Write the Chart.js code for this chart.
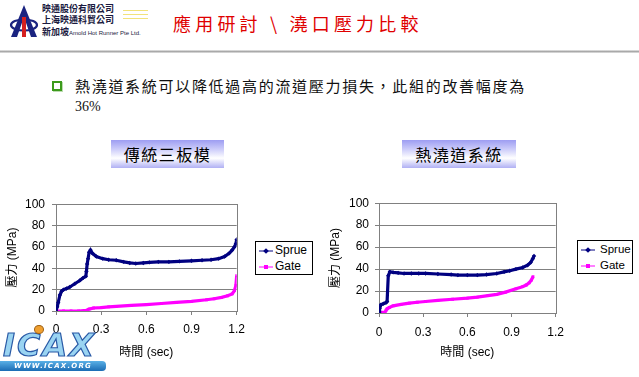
<!DOCTYPE html>
<html><head><meta charset="utf-8">
<script src="https://cdn.jsdelivr.net/npm/chart.js@4/dist/chart.umd.min.js"></script>
<style>
html,body{margin:0;padding:0;}
body{width:639px;height:377px;overflow:hidden;background:#fff;position:relative;font-family:"Liberation Sans",Arial,"Noto Sans CJK TC",sans-serif;}
.abs{position:absolute;}
.co{font-family:"Noto Sans CJK TC",sans-serif;font-weight:700;font-size:9px;line-height:11px;color:#1a1a40;white-space:nowrap;}
.title{left:173px;top:10px;font-family:"Noto Sans CJK TC",sans-serif;font-size:18px;line-height:26px;letter-spacing:4.2px;color:#e00000;white-space:nowrap;}
.sep{left:0;top:50px;width:639px;height:3px;background:linear-gradient(#ececec,#a9a9a9,#e6e6e6);}
.bul{left:52px;top:81px;width:6px;height:6px;border:2px solid #3c9a1c;box-shadow:1px 1px 0 #bcdcb0;}
.txt{left:75px;top:75px;font-family:"Noto Sans CJK TC",sans-serif;font-size:15px;line-height:21px;letter-spacing:1.7px;color:#111;white-space:nowrap;}
.pct{left:75px;top:97px;font-family:"Liberation Serif",serif;font-size:14px;line-height:20px;color:#111;}
.lab{height:28px;top:140px;background:linear-gradient(to bottom,#9d9df2 0%,#cfcffa 35%,#ffffff 65%,#b0b0f4 100%);font-family:"Noto Sans CJK TC",sans-serif;font-size:16px;line-height:28px;letter-spacing:1.5px;text-align:center;color:#000;}
canvas{position:absolute;}
.leg{border:1px solid #000;background:#fff;box-sizing:border-box;}
.leg div{position:absolute;white-space:nowrap;color:#000;}
</style></head><body>

<svg class="abs" style="left:9px;top:4px" width="30" height="34" viewBox="0 0 30 34">
  <path d="M15 1 L2 33 L8 33 L15 13 L22 33 L28 33 Z" fill="#1a2380"/>
  <ellipse cx="15" cy="21" rx="13" ry="5.5" fill="none" stroke="#1a2380" stroke-width="2.2"/>
  <rect x="13" y="13" width="4" height="20" fill="#d42020"/>
</svg>
<div class="abs co" style="left:42px;top:3px">映通股份有限公司</div>
<div class="abs co" style="left:42px;top:14px">上海映通科貿公司</div>
<div class="abs co" style="left:42px;top:26px">新加坡<span style="font-family:'Liberation Sans',sans-serif;font-size:6px;font-weight:400">Amold Hot Runner Pte Ltd.</span></div>
<div class="abs" style="left:123px;top:10px;width:25px;height:1px;background:#f2e27a"></div>
<div class="abs" style="left:123px;top:14px;width:25px;height:1px;background:#f2e27a"></div>
<div class="abs" style="left:123px;top:18px;width:25px;height:1px;background:#f2e27a"></div>

<div class="abs title">應用研討 \ 澆口壓力比較</div>
<div class="abs sep"></div>

<div class="abs bul"></div>
<div class="abs txt">熱澆道系統可以降低過高的流道壓力損失，此組的改善幅度為</div>
<div class="abs pct">36%</div>

<div class="abs lab" style="left:111px;width:113px">傳統三板模</div>
<div class="abs lab" style="left:402px;width:114px">熱澆道系統</div>

<canvas id="c1" width="252" height="187" style="left:0;top:190px"></canvas>
<canvas id="c2" width="252" height="187" style="left:320px;top:190px"></canvas>

<div class="abs leg" style="left:255px;top:241px;width:58px;height:34px;font-size:12px">
  <div style="left:2px;top:2px"><svg width="16" height="14"><line x1="1" y1="7" x2="15" y2="7" stroke="#000080" stroke-width="1"/><rect x="6" y="5" width="4" height="4" transform="rotate(45 8 7)" fill="#000080"/></svg></div>
  <div style="left:19px;top:1px;line-height:15px">Sprue</div>
  <div style="left:2px;top:18px"><svg width="16" height="14"><line x1="1" y1="7" x2="15" y2="7" stroke="#ff00ff" stroke-width="1"/><rect x="6" y="5" width="4" height="4" fill="#ff00ff"/></svg></div>
  <div style="left:19px;top:17px;line-height:15px">Gate</div>
</div>
<div class="abs leg" style="left:577px;top:240px;width:56px;height:34px;font-size:11.5px">
  <div style="left:2px;top:2px"><svg width="16" height="14"><line x1="1" y1="7" x2="15" y2="7" stroke="#000080" stroke-width="1"/><rect x="6" y="5" width="4" height="4" transform="rotate(45 8 7)" fill="#000080"/></svg></div>
  <div style="left:22px;top:1px;line-height:15px">Sprue</div>
  <div style="left:2px;top:18px"><svg width="16" height="14"><line x1="1" y1="7" x2="15" y2="7" stroke="#ff00ff" stroke-width="1"/><rect x="6" y="5" width="4" height="4" fill="#ff00ff"/></svg></div>
  <div style="left:22px;top:17px;line-height:15px">Gate</div>
</div>

<div class="abs" style="left:3px;top:327px;font-family:'DejaVu Sans',sans-serif;font-style:italic;font-weight:700;font-size:32px;line-height:36px;letter-spacing:2px;color:#9ad4f2;-webkit-text-stroke:1.2px #2a5aa6;">ICAX</div>
<div class="abs" style="left:34px;top:325px;width:8px;height:7px;border-radius:50%;background:#f0a030;border:1px solid #a06010"></div>
<div class="abs" style="left:0;top:361px;width:106px;height:10px;background:linear-gradient(#5ab0e6,#1b6cb4);border-radius:0 4px 4px 0;font-family:'DejaVu Sans',sans-serif;font-style:italic;font-weight:700;font-size:7px;line-height:10px;color:#fff;letter-spacing:1.2px;text-align:center">WWW.ICAX.ORG</div>

<script>
// ---- data ----
const xTickLabels = ['0', '0.3', '0.6', '0.9', '1.2'];
const yTickLabels = ['0', '20', '40', '60', '80', '100'];
const seriesNames = ['Sprue', 'Gate'];
const chartTitles = ['傳統三板模', '熱澆道系統'];

// 傳統三板模 (traditional three-plate mold)
const tradSprueT = [0, 0.008, 0.015, 0.026, 0.037, 0.05, 0.07, 0.092, 0.125, 0.158, 0.18, 0.198, 0.202, 0.207, 0.213, 0.22, 0.229, 0.242, 0.268, 0.31, 0.35, 0.4, 0.45, 0.49, 0.53, 0.58, 0.62, 0.68, 0.75, 0.82, 0.9, 0.97, 1.03, 1.08, 1.12, 1.15, 1.17, 1.185, 1.195, 1.2];
const tradSprueV = [0, 4, 8, 15, 18.5, 20, 21, 22.5, 25.5, 28.5, 31, 32.5, 37, 44, 49, 55, 57, 54, 51, 49, 48, 47.5, 46, 45, 44.5, 45, 45.5, 46, 46, 46.5, 47, 47.5, 48, 49, 51, 54, 57, 60, 63, 67];
const tradGateT = [0, 0.05, 0.1, 0.15, 0.2, 0.22, 0.25, 0.3, 0.35, 0.4, 0.5, 0.6, 0.7, 0.8, 0.9, 1.0, 1.05, 1.1, 1.14, 1.17, 1.185, 1.195, 1.2];
const tradGateV = [0, 0, 0, 0, 0.5, 1.8, 2.8, 3.2, 3.8, 4.4, 5.2, 6, 7, 8, 9, 10.5, 11.5, 12.8, 14.3, 16, 19, 24, 33];

// 熱澆道系統 (hot runner system)
const hotSprueT = [0, 0.004, 0.013, 0.03, 0.048, 0.055, 0.063, 0.074, 0.096, 0.13, 0.17, 0.22, 0.27, 0.316, 0.4, 0.49, 0.536, 0.6, 0.668, 0.73, 0.8, 0.85, 0.888, 0.93, 0.976, 1.009, 1.03, 1.045, 1.053];
const hotSprueV = [1, 4, 7.5, 8.5, 9.5, 10.5, 34, 37.5, 37, 36.5, 36, 36, 36, 36, 35.5, 35, 34.5, 34.5, 34.5, 35, 36, 37.5, 38.5, 40, 41.5, 43.5, 46, 49.5, 52];
const hotGateT = [0, 0.02, 0.04, 0.048, 0.055, 0.07, 0.096, 0.15, 0.206, 0.26, 0.316, 0.4, 0.5, 0.6, 0.668, 0.74, 0.8, 0.86, 0.93, 0.975, 1.0, 1.02, 1.035, 1.046];
const hotGateV = [1, 0.5, 0.5, 2.5, 3.8, 5, 6.5, 7.8, 9, 9.8, 10.5, 11.5, 12.5, 13.5, 14.5, 15.8, 17, 19, 22, 24, 25.5, 27.5, 30, 33];

// ---- rendering ----
Chart.defaults.font.family = '"Liberation Sans", Arial, "Noto Sans CJK TC", sans-serif';
Chart.defaults.font.size = 12;
Chart.defaults.color = '#000';

function pts(t, v) { return t.map((x, i) => ({ x: x, y: v[i] })); }

const plotBorder = {
  id: 'plotBorder',
  beforeDatasetsDraw(chart) {
    const { ctx, chartArea: a } = chart;
    ctx.save();
    ctx.strokeStyle = '#808080';
    ctx.lineWidth = 1;
    ctx.strokeRect(Math.round(a.left) + 0.5, Math.round(a.top) + 0.5, Math.round(a.right - a.left), Math.round(a.bottom - a.top));
    ctx.restore();
  }
};

function makeChart(id, sT, sV, gT, gV, L) {
  return new Chart(document.getElementById(id), {
    type: 'scatter',
    data: {
      datasets: [
        { label: seriesNames[0], data: pts(sT, sV), showLine: true, borderColor: '#000080', backgroundColor: '#000080',
          borderWidth: 3.2, pointStyle: 'rectRot', pointRadius: 2.2, pointBorderWidth: 0, tension: 0 },
        { label: seriesNames[1], data: pts(gT, gV), showLine: true, borderColor: '#ff00ff', backgroundColor: '#ff00ff',
          borderWidth: 3.2, pointStyle: 'rect', pointRadius: 2, pointBorderWidth: 0, tension: 0 }
      ]
    },
    options: {
      responsive: false, animation: false, devicePixelRatio: 1,
      layout: { padding: { left: 0, top: L.top, right: L.right, bottom: 0 } },
      plugins: { legend: { display: false }, tooltip: { enabled: false } },
      scales: {
        x: {
          type: 'linear', min: 0, max: 1.2,
          afterBuildTicks(s) { s.ticks = xTickLabels.map(v => ({ value: parseFloat(v) })); },
          ticks: { padding: L.xTickPad, maxRotation: 0, callback: (v, i) => xTickLabels[i] },
          grid: { drawOnChartArea: false, drawTicks: true, tickLength: 4, color: '#808080' },
          border: { display: true, color: '#808080' },
          title: { display: true, text: '時間 (sec)', padding: { top: 0, bottom: L.xTitlePad }, font: { size: 12 } },
          afterFit(s) { s.height = L.xHeight; }
        },
        y: {
          type: 'linear', min: 0, max: 100,
          afterBuildTicks(s) { s.ticks = yTickLabels.map(v => ({ value: parseFloat(v) })); },
          ticks: { padding: L.yTickPad, callback: (v, i) => yTickLabels[i] },
          grid: { drawTicks: true, tickLength: 4, color: '#808080' },
          border: { display: true, color: '#808080' },
          title: { display: true, text: '壓力 (MPa)', padding: { top: L.yTitlePad, bottom: 0 }, font: { size: 12 } },
          afterFit(s) { s.width = L.yWidth; }
        }
      }
    },
    plugins: [plotBorder]
  });
}

makeChart('c1', tradSprueT, tradSprueV, tradGateT, tradGateV,
  { top: 14, right: 14, yWidth: 56, xHeight: 66, xTickPad: 7, xTitlePad: 17, yTickPad: 7, yTitlePad: 5 });
makeChart('c2', hotSprueT, hotSprueV, hotGateT, hotGateV,
  { top: 13, right: 11, yWidth: 59, xHeight: 64, xTickPad: 8, xTitlePad: 17, yTickPad: 6, yTitlePad: 8 });
</script>
</body></html>
